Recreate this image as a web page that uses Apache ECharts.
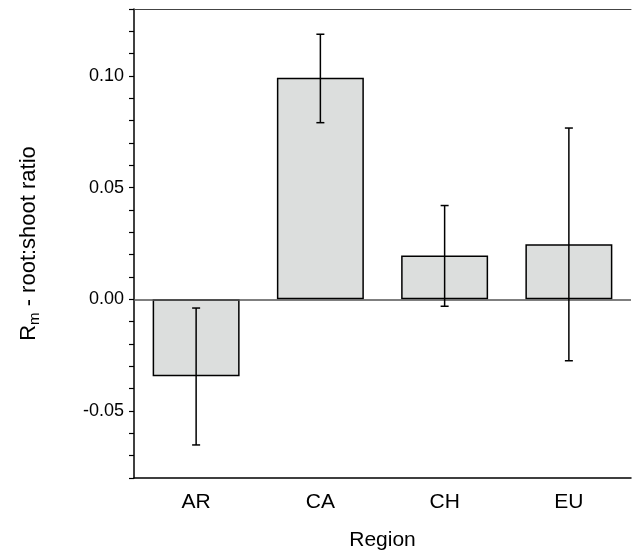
<!DOCTYPE html><html><head><meta charset="utf-8"><script src="https://cdn.jsdelivr.net/npm/echarts@6/dist/echarts.min.js"></script></head><body style="margin:0"><div id="c" style="width:634px;height:559px"></div><script>
const categories=['AR','CA','CH','EU'];
const values=[-0.0344,0.0992,0.0196,0.0247];
const errLow=[-0.0652,0.0791,-0.0031,-0.0275];
const errHigh=[-0.0039,0.1187,0.042,0.0767];
const ch=echarts.init(document.getElementById('c'));
const f='Liberation Sans, Arial, sans-serif';
ch.setOption({animation:false,
grid:{left:134,right:3,top:9,bottom:81},
xAxis:[{type:'category',data:categories,axisLine:{onZero:false,lineStyle:{color:'#000',width:1.5}},axisTick:{show:false},
 axisLabel:{color:'#000',fontSize:21,fontFamily:f,margin:14},name:'Region',nameLocation:'middle',nameGap:52,nameTextStyle:{color:'#000',fontSize:21,fontFamily:f}},
 {type:'category',data:categories,position:'top',axisLine:{onZero:false,lineStyle:{color:'#444',width:1}},axisTick:{show:false},axisLabel:{show:false}}],
yAxis:{type:'value',min:-0.08,max:0.13,interval:0.01,splitLine:{show:false},
 axisLine:{show:true,onZero:false,lineStyle:{color:'#000',width:1.5}},axisTick:{show:true,length:5,lineStyle:{color:'#000',width:1.2}},
 axisLabel:{color:'#000',fontSize:18,fontFamily:f,margin:10,formatter:v=>{const r=Math.round(v*100);return r%5===0?(r/100).toFixed(2):'';}},
 name:'{a|R}{s|m}{a| - root:shoot ratio}',nameLocation:'middle',nameGap:94,nameTextStyle:{rich:{a:{fontSize:22,fontFamily:f,color:'#000'},s:{fontSize:15,fontFamily:f,color:'#000',padding:[0,0,-12,0]}}}},
series:[{type:'bar',data:values,barWidth:'70%',itemStyle:{color:'#dcdedd',borderColor:'#000',borderWidth:1.5},
 markLine:{silent:true,symbol:'none',label:{show:false},lineStyle:{color:'#555',type:'solid',width:1.5},data:[{yAxis:0}]}},
 {type:'custom',data:categories.map((c,i)=>[i,errLow[i],errHigh[i]]),z:10,renderItem:(p,api)=>{
  const lo=api.coord([api.value(0),api.value(1)]),hi=api.coord([api.value(0),api.value(2)]);const w=4;
  const st={stroke:'#000',lineWidth:1.5};
  return{type:'group',children:[{type:'line',shape:{x1:lo[0],y1:lo[1],x2:hi[0],y2:hi[1]},style:st},
   {type:'line',shape:{x1:lo[0]-w,y1:lo[1],x2:lo[0]+w,y2:lo[1]},style:st},
   {type:'line',shape:{x1:hi[0]-w,y1:hi[1],x2:hi[0]+w,y2:hi[1]},style:st}]};}}]});
</script></body></html>
